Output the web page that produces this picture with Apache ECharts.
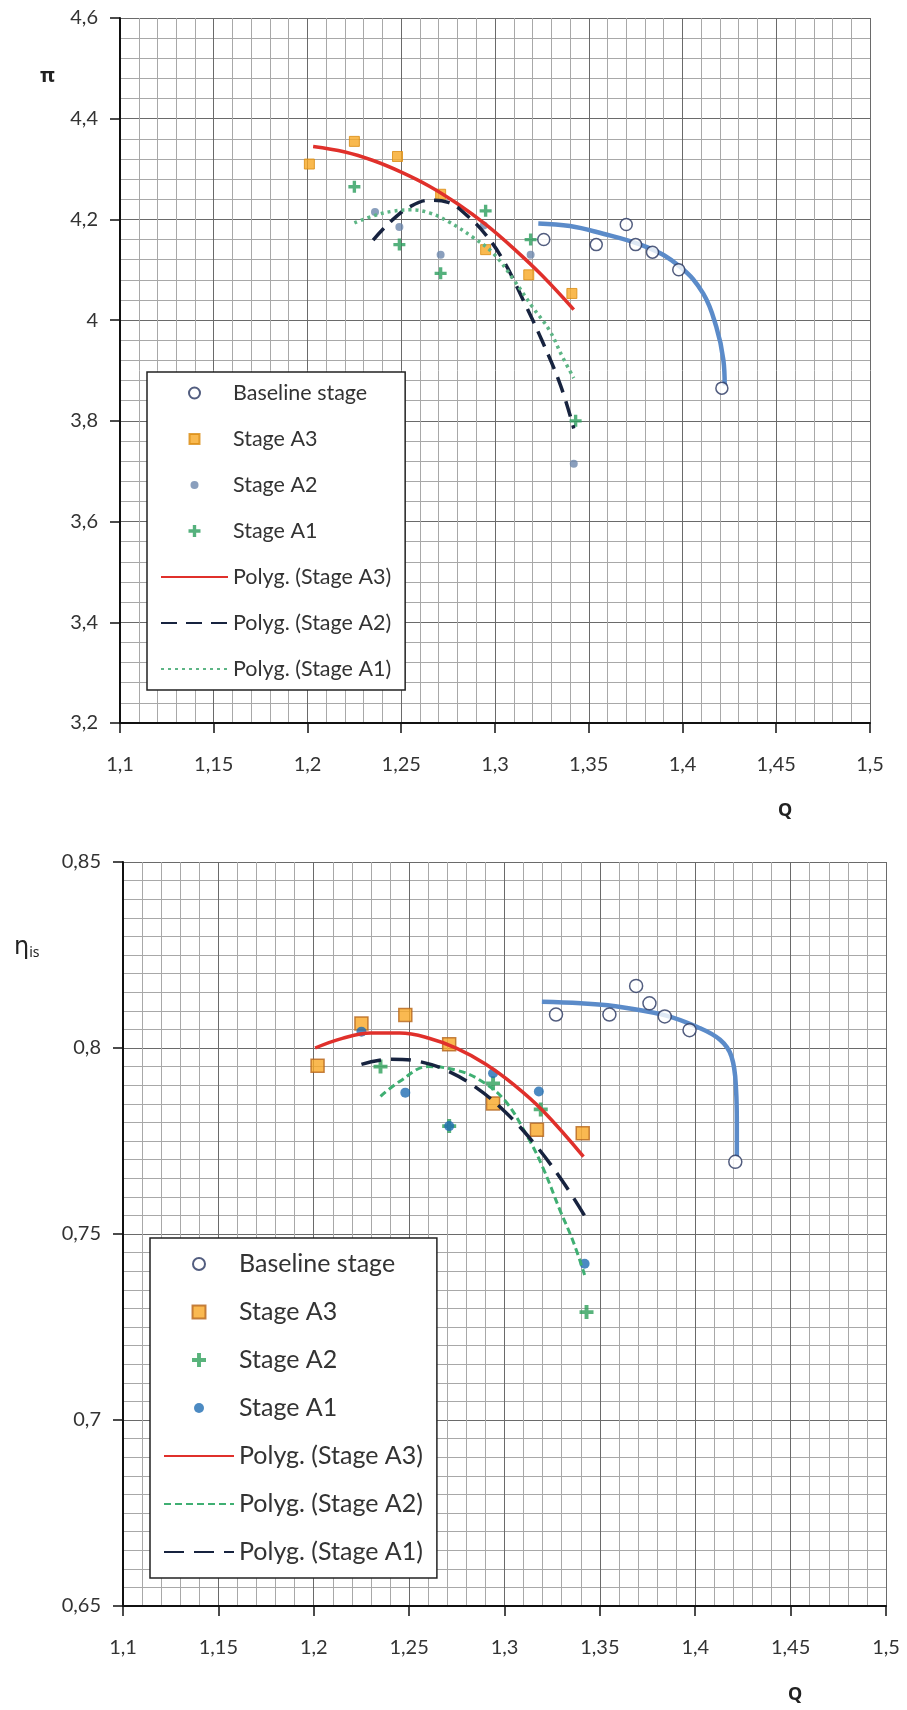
<!DOCTYPE html>
<html>
<head>
<meta charset="utf-8">
<script src="https://cdn.jsdelivr.net/npm/echarts@6/dist/echarts.min.js"></script>
<style>
  html, body { margin: 0; padding: 0; background: #ffffff; }
  #top { width: 907px; height: 850px; }
  #bot { width: 907px; height: 860px; }
</style>
</head>
<body>
<div id="top"></div>
<div id="bot"></div>
<script>
// ---------- tick labels ----------
const xTicks = [1.1, 1.15, 1.2, 1.25, 1.3, 1.35, 1.4, 1.45, 1.5];
const topYTicks = [3.2, 3.4, 3.6, 3.8, 4, 4.2, 4.4, 4.6];
const botYTicks = [0.65, 0.7, 0.75, 0.8, 0.85];

// ---------- top chart (pressure ratio) ----------
const topBaselineQ  = [1.326, 1.354, 1.370, 1.375, 1.384, 1.398, 1.421];
const topBaselinePi = [4.16, 4.15, 4.19, 4.15, 4.135, 4.10, 3.865];
const topA3Q  = [1.201, 1.225, 1.248, 1.271, 1.295, 1.318, 1.341];
const topA3Pi = [4.31, 4.355, 4.325, 4.25, 4.14, 4.09, 4.053];
const topA2Q  = [1.236, 1.249, 1.271, 1.294, 1.319, 1.342];
const topA2Pi = [4.215, 4.185, 4.13, 4.188, 4.13, 3.715];
const topA1Q  = [1.225, 1.249, 1.271, 1.295, 1.319, 1.343];
const topA1Pi = [4.265, 4.15, 4.093, 4.217, 4.16, 3.80];

const topA3FitQ  = [1.203, 1.22, 1.235, 1.25, 1.265, 1.28, 1.295, 1.31, 1.325, 1.342];
const topA3FitPi = [4.345, 4.334, 4.317, 4.294, 4.266, 4.231, 4.19, 4.142, 4.089, 4.021];
const topA2FitQ  = [1.235, 1.245, 1.255, 1.265, 1.275, 1.285, 1.295, 1.305, 1.315, 1.325, 1.335, 1.342];
const topA2FitPi = [4.159, 4.198, 4.226, 4.238, 4.234, 4.208, 4.17, 4.115, 4.04, 3.96, 3.87, 3.785];
const topA1FitQ  = [1.225, 1.235, 1.245, 1.255, 1.265, 1.275, 1.288, 1.299, 1.31, 1.32, 1.329, 1.336, 1.342];
const topA1FitPi = [4.193, 4.207, 4.216, 4.219, 4.213, 4.196, 4.165, 4.133, 4.08, 4.026, 3.98, 3.927, 3.885];
const topBaseFitQ  = [1.3231, 1.34, 1.3542, 1.381, 1.3987, 1.411, 1.418, 1.4218, 1.4225];
const topBaseFitPi = [4.192, 4.187, 4.175, 4.145, 4.106, 4.053, 3.987, 3.921, 3.87];

// ---------- bottom chart (efficiency) ----------
const botBaselineQ   = [1.327, 1.355, 1.369, 1.376, 1.384, 1.397, 1.421];
const botBaselineEta = [0.809, 0.809, 0.8167, 0.812, 0.8085, 0.8048, 0.7694];
const botA3Q   = [1.202, 1.225, 1.248, 1.271, 1.294, 1.317, 1.341];
const botA3Eta = [0.7952, 0.8066, 0.8089, 0.801, 0.7851, 0.778, 0.7771];
const botA2Q   = [1.235, 1.271, 1.294, 1.319, 1.343];
const botA2Eta = [0.795, 0.779, 0.7905, 0.7835, 0.729];
const botA1Q   = [1.225, 1.248, 1.271, 1.294, 1.318, 1.342];
const botA1Eta = [0.8044, 0.788, 0.779, 0.7932, 0.7883, 0.742];

const botA3FitQ   = [1.2007, 1.215, 1.23, 1.245, 1.26, 1.275, 1.29, 1.305, 1.32, 1.3414];
const botA3FitEta = [0.800, 0.8026, 0.804, 0.804, 0.8027, 0.7999, 0.7957, 0.7901, 0.7832, 0.7708];
const botA2FitQ   = [1.235, 1.245, 1.26, 1.275, 1.287, 1.30, 1.312, 1.32, 1.329, 1.336, 1.342];
const botA2FitEta = [0.787, 0.791, 0.795, 0.794, 0.7914, 0.786, 0.7762, 0.768, 0.7565, 0.748, 0.739];
const botA1FitQ   = [1.225, 1.24, 1.255, 1.27, 1.285, 1.30, 1.315, 1.33, 1.342];
const botA1FitEta = [0.7956, 0.797, 0.7964, 0.7939, 0.7894, 0.783, 0.7747, 0.7645, 0.7549];
const botBaseFitQ   = [1.3196, 1.34, 1.357, 1.3833, 1.4008, 1.413, 1.419, 1.4214, 1.4218, 1.4218];
const botBaseFitEta = [0.8124, 0.812, 0.8113, 0.8089, 0.8057, 0.8022, 0.7977, 0.7887, 0.7798, 0.7708];

// ---------- helpers ----------
const zip = (a, b) => a.map((v, i) => [v, b[i]]);
const fmt = v => String(Number(v.toFixed(3))).replace('.', ',');
const nearest = (arr, v) => arr.reduce((p, c) => Math.abs(c - v) < Math.abs(p - v) ? c : p);
const PLUS = 'path://M3.6,0H6.4V3.6H10V6.4H6.4V10H3.6V6.4H0V3.6H3.6Z';
const SQUARE = 'path://M0,0H10V10H0Z';
const FONT = 'Lato';
// legend icons padded inside a fixed box (leading moveTo points set the box)
const box = (s, inner) => 'path://M0,0M' + s + ',' + s + inner;
const circ = (s, r) => box(s, 'M' + (s / 2 + r) + ',' + (s / 2) + 'A' + r + ',' + r + ',0,1,1,' + (s / 2 - r) + ',' + (s / 2) +
                         'A' + r + ',' + r + ',0,1,1,' + (s / 2 + r) + ',' + (s / 2) + 'Z');
const sq = (s, a) => { const o = (s - a) / 2; return box(s, 'M' + o + ',' + o + 'h' + a + 'v' + a + 'h-' + a + 'Z'); };
const plus = (s, a) => { const o = (s - a) / 2, t = a * 0.28, m = (a - t) / 2;
  return box(s, 'M' + (o + m) + ',' + o + 'h' + t + 'v' + m + 'h' + m + 'v' + t + 'h-' + m + 'v' + m + 'h-' + t +
                'v-' + m + 'h-' + m + 'v-' + t + 'h' + m + 'Z'); };
const noSym = { color: 'rgba(0,0,0,0)', borderWidth: 0, borderColor: 'rgba(0,0,0,0)' };

function xAxisCfg() {
  return {
    type: 'value', min: xTicks[0], max: xTicks[xTicks.length - 1], interval: 0.05,
    axisLine: { show: true, onZero: false, lineStyle: { color: '#111', width: 2 } },
    axisTick: { show: true, inside: false, length: 10, lineStyle: { color: '#111', width: 1.5 } },
    axisLabel: { margin: 32, fontFamily: FONT, fontSize: 20, color: '#333',
      formatter: v => fmt(nearest(xTicks, v)) },
    splitLine: { show: true, lineStyle: { color: '#6a6a6a', width: 1 } },
    minorTick: { show: false, splitNumber: 5 },
    minorSplitLine: { show: true, lineStyle: { color: '#a8a8a8', width: 1 } }
  };
}
function yAxisCfg(ticks, interval, minorSplit) {
  return {
    type: 'value', min: ticks[0], max: ticks[ticks.length - 1], interval: interval,
    axisLine: { show: true, lineStyle: { color: '#111', width: 2 } },
    axisTick: { show: true, inside: false, length: 10, lineStyle: { color: '#111', width: 1.5 } },
    axisLabel: { margin: 22, fontFamily: FONT, fontSize: 20, color: '#333',
      formatter: v => fmt(nearest(ticks, v)) },
    splitLine: { show: true, lineStyle: { color: '#6a6a6a', width: 1 } },
    minorTick: { show: false, splitNumber: minorSplit },
    minorSplitLine: { show: true, lineStyle: { color: '#a8a8a8', width: 1 } }
  };
}
function fitLine(name, q, v, color, type, width, z) {
  return {
    name: name, type: 'line', data: zip(q, v), symbol: 'none', smooth: 0.4,
    lineStyle: { color: color, width: width, type: type }, itemStyle: { color: color },
    z: z, silent: true, animation: false
  };
}
function scatter(name, q, v, symbol, size, itemStyle, z) {
  return { name: name, type: 'scatter', data: zip(q, v), symbol: symbol, symbolSize: size,
           itemStyle: itemStyle, z: z, animation: false };
}

// ---------- top chart ----------
const topChart = echarts.init(document.getElementById('top'));
topChart.setOption({
  backgroundColor: '#ffffff',
  animation: false,
  grid: { left: 120, top: 18, width: 750, height: 705 },
  xAxis: xAxisCfg(),
  yAxis: yAxisCfg(topYTicks, 0.2, 5),
  legend: {
    orient: 'vertical', left: 147, top: 372, padding: [9, 14, 9, 13], itemGap: 22,
    itemWidth: 67, itemHeight: 14, backgroundColor: '#ffffff', borderColor: '#222', borderWidth: 1.5,
    selectedMode: false,
    textStyle: { fontFamily: FONT, fontSize: 21.5, color: '#333', lineHeight: 24 },
    data: [
      { name: 'Baseline stage', icon: circ(14, 5.5) },
      { name: 'Stage A3', icon: sq(14, 10) },
      { name: 'Stage A2', icon: circ(14, 4) },
      { name: 'Stage A1', icon: plus(14, 12) },
      { name: 'Polyg. (Stage A3)', itemStyle: noSym },
      { name: 'Polyg. (Stage A2)', itemStyle: noSym },
      { name: 'Polyg. (Stage A1)', itemStyle: noSym }
    ]
  },
  graphic: [
    { type: 'text', left: 40, top: 66, style: { text: 'π', font: 'bold 20px "Noto Sans"', fill: '#222' } },
    { type: 'text', left: 778, top: 802, style: { text: 'Q', font: 'bold 18px "Noto Sans"', fill: '#222' } }
  ],
  series: [
    fitLine('baseline fit', topBaseFitQ, topBaseFitPi, '#5b8bc9', 'solid', 4.5, 3),
    scatter('Baseline stage', topBaselineQ, topBaselinePi, 'circle', 12,
            { color: '#ffffff', borderColor: '#27355f', borderWidth: 1.5 }, 4),
    scatter('Stage A3', topA3Q, topA3Pi, SQUARE, 10,
            { color: '#f7a823', borderColor: '#d98b10', borderWidth: 1 }, 4),
    scatter('Stage A2', topA2Q, topA2Pi, 'circle', 8, { color: '#6d87ad' }, 4),
    scatter('Stage A1', topA1Q, topA1Pi, PLUS, 12, { color: '#2a9d5c' }, 4),
    fitLine('Polyg. (Stage A3)', topA3FitQ, topA3FitPi, '#e0302b', 'solid', 3.5, 5),
    fitLine('Polyg. (Stage A2)', topA2FitQ, topA2FitPi, '#17233f', [16, 9], 3.5, 5),
    fitLine('Polyg. (Stage A1)', topA1FitQ, topA1FitPi, '#5db585', [3, 4], 3.5, 5)
  ]
});

// ---------- bottom chart ----------
const botChart = echarts.init(document.getElementById('bot'));
botChart.setOption({
  backgroundColor: '#ffffff',
  animation: false,
  grid: { left: 123, top: 12, width: 763, height: 744 },
  xAxis: xAxisCfg(),
  yAxis: yAxisCfg(botYTicks, 0.05, 10),
  legend: {
    orient: 'vertical', left: 150, top: 388, padding: [13, 14, 13, 13], itemGap: 22,
    itemWidth: 70, itemHeight: 16, backgroundColor: '#ffffff', borderColor: '#222', borderWidth: 1.5,
    selectedMode: false,
    textStyle: { fontFamily: FONT, fontSize: 25, color: '#333', lineHeight: 26 },
    data: [
      { name: 'Baseline stage', icon: circ(16, 6) },
      { name: 'Stage A3', icon: sq(16, 13) },
      { name: 'Stage A2', icon: plus(16, 14) },
      { name: 'Stage A1', icon: circ(16, 5) },
      { name: 'Polyg. (Stage A3)', itemStyle: noSym },
      { name: 'Polyg. (Stage A2)', itemStyle: noSym },
      { name: 'Polyg. (Stage A1)', itemStyle: noSym }
    ]
  },
  graphic: [
    { type: 'text', left: 14, top: 86, style: { text: '{a|η}{b|is}',
      rich: { a: { font: '24px "DejaVu Sans"', fill: '#222' },
              b: { font: '14px "Noto Sans"', fill: '#222', padding: [10, 0, 0, 0] } } } },
    { type: 'text', left: 788, top: 836, style: { text: 'Q', font: 'bold 18px "Noto Sans"', fill: '#222' } }
  ],
  series: [
    fitLine('baseline fit', botBaseFitQ, botBaseFitEta, '#5b8bc9', 'solid', 4.5, 3),
    scatter('Baseline stage', botBaselineQ, botBaselineEta, 'circle', 13,
            { color: '#ffffff', borderColor: '#27355f', borderWidth: 1.5 }, 4),
    scatter('Stage A3', botA3Q, botA3Eta, SQUARE, 13,
            { color: '#f9a825', borderColor: '#b5651d', borderWidth: 1.5 }, 4),
    scatter('Stage A2', botA2Q, botA2Eta, PLUS, 14, { color: '#2ea05a' }, 4),
    scatter('Stage A1', botA1Q, botA1Eta, 'circle', 10, { color: '#1f6db3' }, 4),
    fitLine('Polyg. (Stage A3)', botA3FitQ, botA3FitEta, '#e0302b', 'solid', 3.5, 5),
    fitLine('Polyg. (Stage A2)', botA2FitQ, botA2FitEta, '#3faf72', [7, 4], 3, 5),
    fitLine('Polyg. (Stage A1)', botA1FitQ, botA1FitEta, '#17233f', [20, 10], 3.5, 5)
  ]
});
</script>
</body>
</html>
